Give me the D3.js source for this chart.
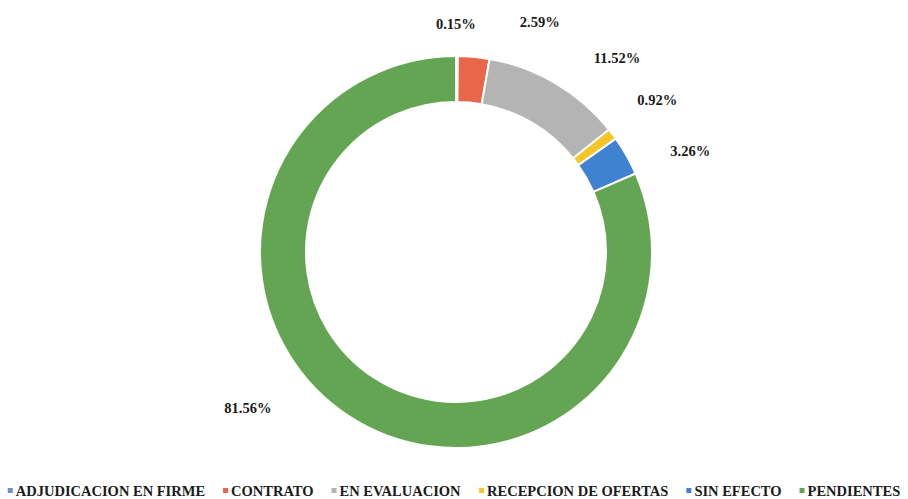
<!DOCTYPE html>
<html>
<head>
<meta charset="utf-8">
<script src="https://cdn.jsdelivr.net/npm/d3@7"></script>
<style>
	body { margin: 0; background: #fff; }
	text { font-family: "Liberation Serif", "DejaVu Serif", serif; font-weight: bold; fill: #1a1a1a; }
</style>
</head>
<body>
<svg id="chart" width="908" height="499"></svg>
<script>
var categories = ['ADJUDICACION EN FIRME', 'CONTRATO', 'EN EVALUACION', 'RECEPCION DE OFERTAS', 'SIN EFECTO', 'PENDIENTES'];
var values = [0.15, 2.59, 11.52, 0.92, 3.26, 81.56];
var labels = ['0.15%', '2.59%', '11.52%', '0.92%', '3.26%', '81.56%'];
var colors = ['#6f8fd0', '#e8674a', '#b4b4b4', '#f6c629', '#3f82d2', '#64a553'];
// label placement tweaks (degrees added to slice mid angle, radius)
var labelShift = [-0.3, 14.8, 9.1, 0, 6.2, 20];
var labelRadius = [228, 245, 252, 252, 255, 260];

var svg = d3.select('#chart');
var cx = 456, cy = 252, outerR = 196, innerR = 150;

var pie = d3.pie().sort(null).value(function(d) { return d; });
var arcs = pie(values);

var arc = d3.arc().innerRadius(innerR).outerRadius(outerR);

var g = svg.append('g').attr('transform', 'translate(' + cx + ',' + cy + ')');

g.selectAll('.slice').data(arcs).enter().append('path')
	.attr('class', 'slice')
	.attr('d', arc)
	.attr('fill', function(d, i) { return colors[i]; })
	.attr('stroke', '#fff')
	.attr('stroke-width', 2);

g.selectAll('.lbl').data(arcs).enter().append('text')
	.attr('class', 'lbl')
	.attr('text-anchor', 'middle')
	.attr('dominant-baseline', 'central')
	.attr('font-size', 14.5)
	.attr('transform', function(d, i) {
		var a = (d.startAngle + d.endAngle) / 2 + labelShift[i] * Math.PI / 180;
		var r = labelRadius[i];
		return 'translate(' + (r * Math.sin(a)) + ',' + (-r * Math.cos(a)) + ')';
	})
	.text(function(d, i) { return labels[i]; });

// legend
var legend = svg.append('g').attr('transform', 'translate(0,491)');
var items = legend.selectAll('.item').data(categories).enter().append('g').attr('class', 'item');
items.append('rect')
	.attr('width', 5).attr('height', 5)
	.attr('y', -3)
	.attr('fill', function(d, i) { return colors[i]; });
items.append('text')
	.attr('x', 8)
	.attr('dominant-baseline', 'central')
	.attr('font-size', 14.5)
	.text(function(d) { return d; });

var gap = 18, widths = [];
items.each(function() { widths.push(this.getBBox().width); });
var total = d3.sum(widths) + gap * (widths.length - 1);
var x = (908 - total) / 2;
items.attr('transform', function(d, i) {
	var t = 'translate(' + x + ',0)';
	x += widths[i] + gap;
	return t;
});
</script>
</body>
</html>
